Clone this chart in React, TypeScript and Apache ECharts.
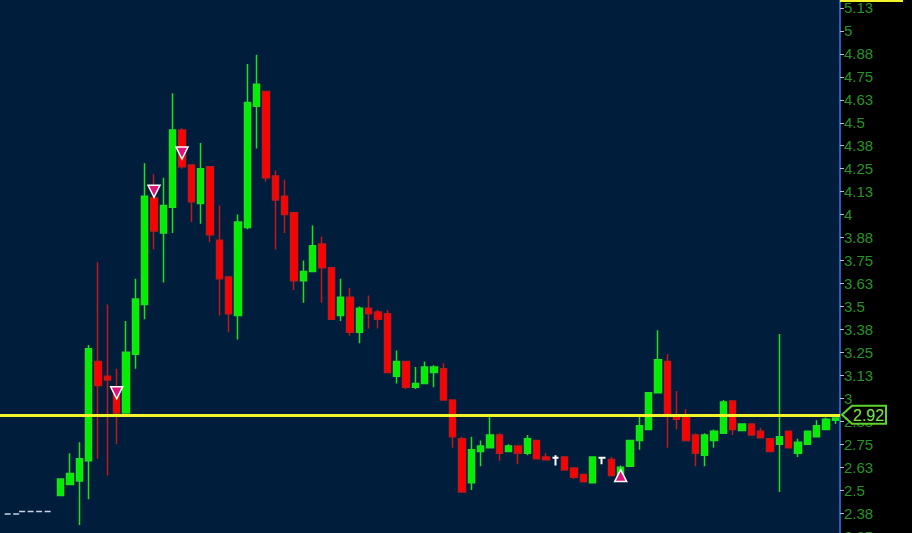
import React, { useEffect, useRef } from "react";
import * as echarts from "echarts";

// ---- data ----
const LEAD = 6; // empty slots before the first candle
const categories = Array.from({ length: 90 }, (_, i) => String(i + 1));

const opens = [
  2.47, 2.53, 2.55, 2.66, 3.2, 3.12, 3.06, 2.92, 3.24, 3.51,
  4.09, 3.9, 4.04, 4.46, 4.27, 4.06, 4.26, 3.86, 3.66, 3.45,
  3.93, 4.59, 4.67, 4.21, 4.1, 4.01, 3.64, 3.69, 3.84, 3.71,
  3.45, 3.55, 3.36, 3.49, 3.47, 3.46, 3.12, 3.2, 3.06, 3.08,
  3.14, 3.16, 2.99, 2.78, 2.54, 2.71, 2.73, 2.8, 2.71, 2.74,
  2.7, 2.77, 2.68, 2.676, 2.68, 2.62, 2.585, 2.54, 2.676, 2.667,
  2.575, 2.63, 2.77, 2.83, 3.03, 3.2, 2.9, 2.9, 2.8, 2.69,
  2.77, 2.81, 2.985, 2.825, 2.86, 2.82, 2.78, 2.75, 2.82, 2.7,
  2.75, 2.79, 2.83, 2.88,
];
const closes = [
  2.56, 2.59, 2.67, 3.27, 3.07, 3.1, 2.92, 3.25, 3.54, 4.1,
  3.91, 4.05, 4.46, 4.26, 4.07, 4.25, 3.89, 3.65, 3.46, 3.96,
  4.61, 4.71, 4.2, 4.08, 4.0, 3.64, 3.69, 3.83, 3.71, 3.43,
  3.55, 3.36, 3.49, 3.46, 3.43, 3.14, 3.2, 3.06, 3.08, 3.17,
  3.17, 2.99, 2.79, 2.49, 2.72, 2.74, 2.8, 2.7, 2.74, 2.7,
  2.78, 2.67, 2.665, 2.676, 2.61, 2.57, 2.546, 2.68, 2.676, 2.58,
  2.625, 2.77, 2.85, 3.03, 3.21, 2.91, 2.885, 2.77, 2.7, 2.8,
  2.82, 2.98, 2.83, 2.86, 2.8, 2.785, 2.71, 2.79, 2.73, 2.76,
  2.82, 2.85, 2.885, 2.893,
];
const lows = [
  2.47, 2.53, 2.31, 2.45, 2.67, 2.58, 2.75, 2.92, 3.16, 3.43,
  3.81, 3.63, 3.9, 4.25, 3.96, 3.95, 3.85, 3.45, 3.36, 3.32,
  3.92, 4.36, 4.18, 3.81, 3.9, 3.59, 3.52, 3.69, 3.52, 3.43,
  3.42, 3.34, 3.3, 3.38, 3.38, 3.14, 3.08, 3.05, 3.05, 3.08,
  3.06, 2.99, 2.73, 2.49, 2.5, 2.63, 2.73, 2.66, 2.71, 2.64,
  2.69, 2.67, 2.665, 2.634, 2.61, 2.56, 2.546, 2.54, 2.64, 2.58,
  2.575, 2.63, 2.72, 2.83, 3.03, 2.73, 2.83, 2.77, 2.63, 2.63,
  2.73, 2.81, 2.8, 2.82, 2.8, 2.785, 2.71, 2.49, 2.73, 2.68,
  2.75, 2.79, 2.83, 2.86,
];
const highs = [
  2.56, 2.7, 2.76, 3.29, 3.74, 3.51, 3.16, 3.42, 3.65, 4.28,
  4.22, 4.2, 4.66, 4.47, 4.27, 4.39, 4.26, 4.05, 3.66, 4.0,
  4.82, 4.87, 4.67, 4.24, 4.19, 4.01, 3.75, 3.94, 3.88, 3.71,
  3.65, 3.6, 3.5, 3.56, 3.48, 3.48, 3.26, 3.2, 3.17, 3.2,
  3.18, 3.19, 2.99, 2.79, 2.79, 2.77, 2.9, 2.81, 2.75, 2.74,
  2.8, 2.77, 2.7, 2.689, 2.68, 2.62, 2.585, 2.68, 2.68, 2.68,
  2.634, 2.77, 2.9, 3.03, 3.37, 3.24, 3.04, 2.94, 2.81, 2.81,
  2.83, 2.99, 2.985, 2.86, 2.86, 2.84, 2.78, 3.35, 2.82, 2.78,
  2.82, 2.88, 2.895, 2.893,
];
// candles drawn as white crosses (unchanged)
const dojiIdx = [53, 58];

// signal markers: [candle index, price]
const sellSignals = [
  [6, 3.03],
  [10, 4.127],
  [13, 4.335],
];
const buySignals = [[60, 2.579]];

// dashed reference line in the empty lead-in slots
const dashedLine = [2.37, 2.37, 2.384, 2.384, 2.384, 2.384];

const priceLine = 2.91;
const priceLabel = "2.92";

const OFFSET = 15; // chart div is shifted up by this many px
const AXIS_X = 840;

function fmt(v: number) {
  return String(parseFloat(v.toFixed(2)));
}

export default function App() {
  const ref = useRef<HTMLDivElement>(null);

  useEffect(() => {
    if (!ref.current) return;
    const chart = echarts.init(ref.current, null, { renderer: "svg" });

    const candleData = opens.map((o, i) => {
      const value = [i + LEAD, o, closes[i], lows[i], highs[i]];
      if (dojiIdx.includes(i)) {
        return {
          value,
          itemStyle: {
            color: "#ffffff",
            color0: "#ffffff",
            borderColor: "#ffffff",
            borderColor0: "#ffffff",
            borderColorDoji: "#ffffff",
            borderWidth: 2,
          },
        };
      }
      return { value };
    });

    const option: any = {
      animation: false,
      backgroundColor: "transparent",
      textStyle: { fontFamily: "Liberation Sans, Arial, sans-serif" },
      grid: {
        left: 0,
        right: 912 - AXIS_X,
        top: 0,
        bottom: 0,
        containLabel: false,
        outerBoundsMode: "none",
        show: true,
        backgroundColor: "#011d3c",
        borderWidth: 0,
      },
      xAxis: {
        type: "category",
        data: categories,
        boundaryGap: true,
        axisLine: { show: false },
        axisTick: { show: false },
        axisLabel: { show: false },
        splitLine: { show: false },
      },
      yAxis: {
        type: "value",
        position: "right",
        min: 2.25,
        max: 5.25,
        interval: 0.125,
        axisLine: { show: true, lineStyle: { color: "#2a5db5", width: 2 } },
        axisTick: {
          show: true,
          inside: false,
          length: 4,
          lineStyle: { color: "#b8c0c8", width: 1 },
        },
        axisLabel: {
          show: true,
          margin: 4,
          color: "#279327",
          fontSize: 15,
          fontFamily: "Liberation Sans, Arial, sans-serif",
          formatter: (v: number) => fmt(v),
          showMinLabel: true,
          showMaxLabel: false,
        },
        splitLine: { show: false },
      },
      series: [
        {
          type: "line",
          data: dashedLine.map((v, i) => [i, v]),
          step: "middle",
          symbol: "none",
          silent: true,
          lineStyle: { color: "#c9d3e6", width: 1.5, type: [6, 2.5] },
        },
        {
          type: "candlestick",
          data: candleData,
          encode: { x: 0, y: [1, 2, 3, 4] },
          barWidth: 7,
          itemStyle: {
            color: "#00f000",
            color0: "#ff0000",
            borderColor: "#1ee01e",
            borderColor0: "#c41818",
            borderColorDoji: "#ffffff",
            borderWidth: 1.5,
          },
          markLine: {
            silent: true,
            symbol: ["none", "none"],
            label: { show: false },
            lineStyle: { color: "#f4f42a", width: 3, type: "solid" },
            data: [{ yAxis: priceLine }],
          },
        },
        {
          type: "scatter",
          data: sellSignals.map(([i, v]) => [i + LEAD, v]),
          symbol: "triangle",
          symbolRotate: 180,
          symbolSize: [12, 12],
          z: 5,
          itemStyle: { color: "#e3127a", borderColor: "#ffffff", borderWidth: 1.5, opacity: 1 },
        },
        {
          type: "scatter",
          data: buySignals.map(([i, v]) => [i + LEAD, v]),
          symbol: "triangle",
          symbolSize: [12, 12],
          z: 5,
          itemStyle: { color: "#e3127a", borderColor: "#ffffff", borderWidth: 1.5, opacity: 1 },
        },
      ],
    };

    chart.setOption(option);

    const py = chart.convertToPixel({ yAxisIndex: 0 }, priceLine) as number;
    chart.setOption({
      graphic: [
        {
          type: "rect",
          z: 100,
          shape: { x: AXIS_X, y: OFFSET, width: 63, height: 2 },
          style: { fill: "#f4f42a" },
        },
        {
          type: "polygon",
          z: 100,
          shape: {
            points: [
              [AXIS_X + 2, py],
              [AXIS_X + 12, py - 9],
              [AXIS_X + 46, py - 9],
              [AXIS_X + 46, py + 9],
              [AXIS_X + 12, py + 9],
            ],
          },
          style: { fill: "#000000", stroke: "#5fd42e", lineWidth: 2 },
        },
        {
          type: "text",
          z: 101,
          x: AXIS_X + 13,
          y: py + 0.5,
          style: {
            text: priceLabel,
            fill: "#7de84a",
            font: "16px Liberation Sans, Arial, sans-serif",
            verticalAlign: "middle",
            align: "left",
          },
        },
      ],
    });

    return () => chart.dispose();
  }, []);

  return (
    <div
      style={{
        position: "fixed",
        left: 0,
        top: 0,
        width: 912,
        height: 533,
        overflow: "hidden",
        background: "#000000",
      }}
    >
      <div
        ref={ref}
        style={{ position: "absolute", left: 0, top: -OFFSET, width: 912, height: 551 }}
      />
    </div>
  );
}
